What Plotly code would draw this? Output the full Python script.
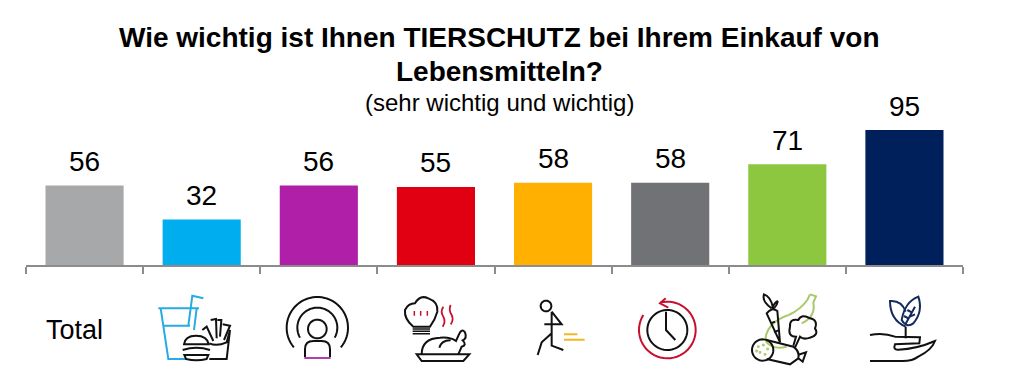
import re
import numpy as np
import plotly.graph_objects as go

categories = ["Total", "Fast Food", "Medien", "Kochen", "Eile", "Zeit", "Frische", "Nachhaltig"]
values = [56, 32, 56, 55, 58, 58, 71, 95]
colors = ["#A7A8AA", "#00AEEF", "#B01FA8", "#E10012", "#FFB000", "#717275", "#8DC63F", "#00205C"]
title_lines = ["Wie wichtig ist Ihnen TIERSCHUTZ bei Ihrem Einkauf von", "Lebensmitteln?"]
subtitle = "(sehr wichtig und wichtig)"
FONT = "Liberation Sans, Arial, sans-serif"

W, H = 1011, 376
L, R, T, B = 26, 963, 123, 265

fig = go.Figure(go.Bar(
    x=list(range(8)), y=values, width=0.667, marker=dict(color=colors, line_width=0),
    hoverinfo="skip", customdata=categories))

shapes = []
BLK, BLU, PUR, RED, YEL, GRN, NAV = "#111111", "#29ABE2", "#B040B0", "#C8102E", "#F2B824", "#A9C86A", "#14295E"


def conv(d, ox):
    toks = re.findall(r"[MLQCZ]|-?\d+\.?\d*", d)
    out, nums = [], []
    for t in toks:
        if t in "MLQCZ":
            out.append(t)
        else:
            nums.append(float(t))
            if len(nums) == 2:
                px = ox + nums[0] / 3
                py = 255 + nums[1] / 3
                out.append(f"{(px - L) / (R - L):.5f},{(B - py) / (B - T):.5f}")
                nums = []
    return " ".join(out)


def P(d, col=BLK, ox=0, w=2.0, fill=None):
    s = dict(type="path", path=conv(d, ox), xref="paper", yref="paper", layer="above",
             line=dict(color=col, width=w))
    if fill:
        s["fillcolor"] = fill
    shapes.append(s)


def arc(cx, cy, r, a0, a1, col=BLK, ox=0, w=2.0):
    a = np.radians(np.linspace(a0, a1, 48))
    pts = [f"{cx + r * np.cos(v):.1f} {cy + r * np.sin(v):.1f}" for v in a]
    P("M" + " L".join(pts), col, ox, w)


# cup, fries and burger
P("M475 160 L597 160 M482 160 L505 312 L560 312 M590 160 L582 225 M492 212 L570 212 M565 212 L577 122 L610 130", BLU, 0, 2)
P("M607 225 L620 215 L640 258 M632 195 L648 192 L650 250 M652 195 L664 195 L660 245 M668 208 L690 212 L672 255", BLK, 0, 2)
P("M628 265 Q650 275 680 262 L690 225 L680 312 L628 312", BLK, 0, 2)
P("M552 268 Q555 242 588 242 Q622 242 626 268 Z M548 285 Q590 272 630 285 M553 300 L625 300 L620 312 Q590 320 558 312 Z", BLK, 0, 2, "#fff")

# person in signal rings
arc(952, 218, 92, 140, 400)
arc(952, 218, 60, 150, 390)
arc(952, 222, 28, 0, 360)
P("M915 306 L915 282 Q915 258 940 258 L965 258 Q990 258 990 282 L990 306")
P("M913 309 L992 309", PUR)

# hat, steam, chicken
P("M1240 215 Q1212 192 1215 165 Q1225 145 1245 145 Q1260 118 1285 130 Q1315 140 1312 170 Q1305 195 1290 215 Z")
P("M1238 222 L1290 222 M1238 229 L1290 229 M1238 236 L1290 236", BLK, 0, 1.5)
P("M1243 168 L1243 182 M1262 168 L1262 182 M1282 168 L1282 182", RED, 0, 1.5)
P("M1330 155 Q1320 170 1330 185 Q1338 200 1328 215 M1352 150 Q1345 165 1355 180 Q1362 195 1352 208", RED, 0, 1.8)
P("M1265 298 Q1265 250 1320 248 Q1350 245 1368 258 L1378 236 Q1385 220 1395 232 Q1402 250 1388 256 Q1402 270 1385 275 L1375 298")
P("M1250 298 L1408 298 L1390 318 L1265 318 Z")
P("M1318 278 Q1325 255 1352 256")

# hurrying figure
arc(138, 153, 16, 0, 360, BLK, 500)
P("M155 170 L185 208 L133 208 M155 170 L155 235 L125 262 L113 300 M155 235 L155 272 L190 285", BLK, 500)
P("M192 238 L232 238 M192 254 L254 254", YEL, 500)

# clock
arc(502, 225, 60, 0, 360, BLK, 500)
P("M498 170 L498 225 L526 255", BLK, 500)
arc(502, 225, 85, -105, 212, RED, 500)
P("M497 130 L480 145 L505 158", RED, 500)

# vegetables
P("M930 118 L948 124 L940 142 Q948 185 905 205 M866 180 Q835 190 815 210 Q790 240 800 262 Q820 285 860 275", GRN, 500)
P("M930 118 L922 135 Q900 165 866 180", GRN, 500)
P("M800 175 Q815 155 832 168 L840 262 Z M812 205 L825 200 M822 232 L835 226", BLK, 500)
P("M815 160 Q785 140 792 118 Q812 125 818 155 Q830 135 833 140 Q830 155 818 162", BLK, 500)
P("M880 272 L888 245 Q862 245 870 215 Q868 190 895 195 Q905 175 930 190 Q955 195 945 220 Q958 240 930 248 Q910 255 900 245 L885 278", BLK, 500)
arc(788, 285, 32, 0, 360, BLK, 500)
P("M800 255 L880 275 Q900 290 895 310 L870 328 L800 312 M893 300 L918 292 L908 320 L893 308", BLK, 500)
for dx, dy in [(775, 275), (790, 270), (803, 282), (780, 292), (795, 298), (770, 288)]:
    arc(dx, dy, 2.5, 0, 360, GRN, 500, 1.2)

# plant in hand
P("M1217 215 Q1170 195 1170 138 Q1205 135 1217 170", NAV, 500)
P("M1205 195 Q1215 140 1255 125 Q1270 170 1240 205 Q1220 220 1205 195 Z M1215 210 L1245 155 M1225 190 L1212 183 M1235 172 L1222 165 M1230 185 L1245 178", NAV, 500)
P("M1217 215 L1217 250", BLK, 500)
P("M1110 240 Q1150 232 1185 245 L1260 247 L1258 265 L1185 268 Q1178 285 1195 284 Q1250 282 1305 258 Q1295 285 1255 305 Q1235 320 1200 318 L1110 318", BLK, 500)


def text_at(text, px, py, size, bold=False):
    return dict(text=f"<b>{text}</b>" if bold else text, x=(px - L) / (R - L), y=(B - py) / (B - T),
                xref="paper", yref="paper", showarrow=False, xanchor="center", yanchor="middle",
                font=dict(family=FONT, size=size, color="#000"))


annotations = [
    text_at(title_lines[0], 499, 38, 28, True),
    text_at(title_lines[1], 499, 71, 28, True),
    text_at(subtitle, 499, 102, 24),
    dict(text="Total", x=0, xshift=-10, y=(B - 330) / (B - T), xref="x", yref="paper",
         showarrow=False, xanchor="center", yanchor="middle", font=dict(family=FONT, size=27, color="#000")),
]
for i, v in enumerate(values):
    annotations.append(dict(text=str(v), x=i, y=v, xref="x", yref="y", yshift=24, showarrow=False,
                            xanchor="center", yanchor="middle", font=dict(family=FONT, size=28, color="#000")))

fig.update_layout(
    width=W, height=H, margin=dict(l=L, r=W - R, t=T, b=H - B, pad=0),
    paper_bgcolor="#fff", plot_bgcolor="#fff", showlegend=False, shapes=shapes,
    annotations=annotations,
    xaxis=dict(range=[-0.5, 7.5], tickmode="array", tickvals=[i - 0.5 for i in range(9)],
               ticktext=[""] * 9, ticks="outside", ticklen=7, tickwidth=2, tickcolor="#8C8C8C",
               showline=True, linecolor="#8C8C8C", linewidth=2, showgrid=False, zeroline=False),
    yaxis=dict(range=[0, 100], visible=False),
)
fig.write_html("out.html", config={"displayModeBar": False},
               post_script="document.body.style.margin='0';document.body.style.overflow='hidden';")
